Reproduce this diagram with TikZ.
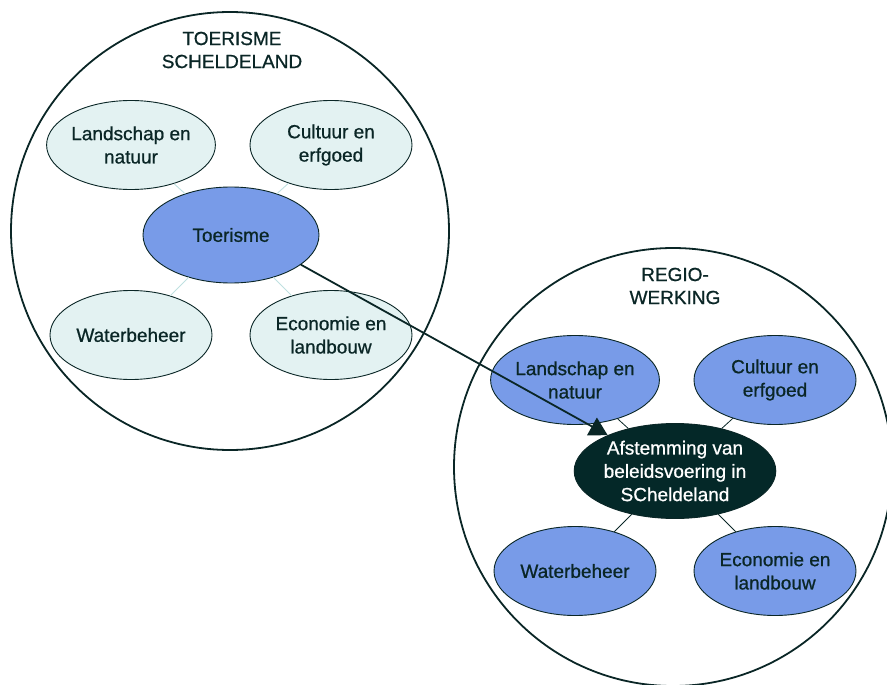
\documentclass[tikz,border=0pt]{standalone}
\usepackage{fontspec}
\setmainfont{Liberation Sans}
\newfontfamily\heavyfont{Liberation Sans}[UprightFeatures={FakeBold=0.8}]
\usetikzlibrary{shapes.geometric,arrows.meta}
\definecolor{lightfill}{HTML}{E3F2F2}
\definecolor{bluefill}{HTML}{789BE8}
\definecolor{darkfill}{HTML}{042828}
\definecolor{ink}{HTML}{0A2626}
\definecolor{lightline}{HTML}{BFE0E0}
\tikzset{
  every node/.style={font=\heavyfont\fontsize{19pt}{23.3pt}\selectfont, text=ink, align=center},
  bigcircle/.style={circle, draw=ink, line width=1.8pt, minimum size=438pt, inner sep=0pt},
  smallell/.style={ellipse, draw=ink, line width=0.9pt, minimum width=162pt, minimum height=89pt, inner sep=0pt},
  lightell/.style={smallell, fill=lightfill},
  blueell/.style={smallell, fill=bluefill},
  hubell/.style={ellipse, draw=ink, line width=0.9pt, minimum width=176pt, minimum height=96pt, inner sep=0pt},
  lightlink/.style={draw=lightline, line width=0.9pt},
  darklink/.style={draw=ink, line width=0.8pt},
  mainarrow/.style={draw=ink, line width=1.8pt, -{Triangle[length=18pt,width=20pt]}},
  title/.style={font=\heavyfont\fontsize{19pt}{23pt}\selectfont}
}
\begin{document}
\begin{tikzpicture}[x=1pt,y=-1pt]
\useasboundingbox (0,0) rectangle (887,685);
% big circles
\node[bigcircle] (C1) at (230,231) {};
\node[bigcircle] (C2) at (673,467) {};
\node[title] (t1) at (232,50) {TOERISME\\SCHELDELAND};
\node[title] (t2) at (675,286) {REGIO-\\WERKING};
% left group
\node[lightell] (L1) at (131,145) {Landschap en\\natuur};
\node[lightell] (L2) at (331,145) {Cultuur en\\erfgoed};
\node[lightell] (L3) at (131,335) {Waterbeheer};
\node[lightell] (L4) at (331,335) {Economie en\\landbouw};
\node[hubell, fill=bluefill] (T) at (231,235) {Toerisme};
\foreach \n in {L1,L2,L3,L4} \draw[lightlink] (\n) -- (T);
% right group
\node[blueell] (R1) at (575,380) {Landschap en\\natuur};
\node[blueell] (R2) at (775,380) {Cultuur en\\erfgoed};
\node[blueell] (R3) at (575,571) {Waterbeheer};
\node[blueell] (R4) at (775,571) {Economie en\\landbouw};
\node[hubell, fill=darkfill, text=white, minimum height=95pt] (A) at (675,471) {Afstemming van\\beleidsvoering in\\SCheldeland};
\foreach \n in {R1,R2,R3,R4} \draw[darklink] (\n) -- (A);
% arrow
\draw[mainarrow] (T.-23) -- (A.152);
\end{tikzpicture}
\end{document}
